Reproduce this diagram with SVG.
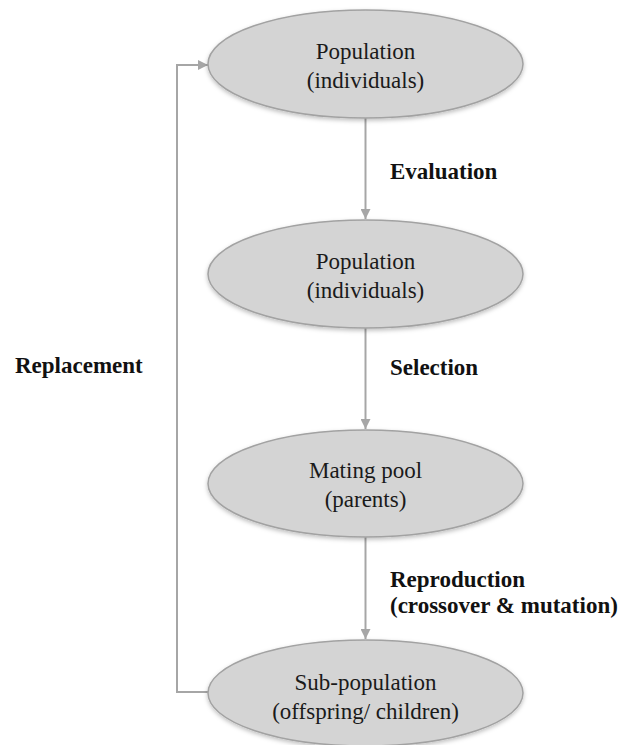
<svg xmlns="http://www.w3.org/2000/svg" width="623" height="745" viewBox="0 0 623 745">
  <style>
    .node ellipse { fill: #d4d4d4; stroke: #a2a2a2; stroke-width: 1.5; filter: url(#shadow); }
    .node text { font-family: "Liberation Serif", "Times New Roman", serif; font-size: 23px; fill: #1a1a1a; text-anchor: middle; }
    .label { font-family: "Liberation Serif", "Times New Roman", serif; font-size: 23px; font-weight: bold; fill: #111; }
    .edge { fill: none; stroke: #a6a6a6; stroke-width: 2; marker-end: url(#arrow); }
  </style>
  <defs>
    <filter id="shadow" x="-10%" y="-20%" width="120%" height="150%">
      <feDropShadow dx="0" dy="2" stdDeviation="2" flood-color="#000" flood-opacity="0.25"/>
    </filter>
    <marker id="arrow" viewBox="0 0 10 10" refX="10" refY="5" markerWidth="5" markerHeight="5" orient="auto" markerUnits="strokeWidth">
      <path d="M0,0 L10,5 L0,10 Z" fill="#a6a6a6"/>
    </marker>
  </defs>

  <rect width="623" height="745" fill="#fff"/>

  <!-- connectors -->
  <g id="connectors">
    <path class="edge" d="M365.5,118 V219"/>
    <path class="edge" d="M365.5,328 V429"/>
    <path class="edge" d="M365.5,537 V639"/>
    <path class="edge" d="M208,692 H177 V65 H208"/>
  </g>

  <!-- connector labels -->
  <g id="labels">
    <text class="label" x="390" y="179">Evaluation</text>
    <text class="label" x="390" y="375">Selection</text>
    <text class="label" x="390" y="587">Reproduction</text>
    <text class="label" x="390" y="613">(crossover &amp; mutation)</text>
    <text class="label" x="15" y="373">Replacement</text>
  </g>

  <g id="population" class="node">
    <ellipse cx="365.5" cy="64" rx="157.5" ry="54"/>
    <text x="365.5" y="59">Population</text>
    <text x="365.5" y="88">(individuals)</text>
  </g>

  <g id="evaluated-population" class="node">
    <ellipse cx="365.5" cy="274" rx="157.5" ry="54"/>
    <text x="365.5" y="269">Population</text>
    <text x="365.5" y="298">(individuals)</text>
  </g>

  <g id="mating-pool" class="node">
    <ellipse cx="365.5" cy="483.5" rx="157.5" ry="53.5"/>
    <text x="365.5" y="478">Mating pool</text>
    <text x="365.5" y="507">(parents)</text>
  </g>

  <g id="sub-population" class="node">
    <ellipse cx="365.5" cy="693" rx="157.5" ry="53"/>
    <text x="365.5" y="690">Sub-population</text>
    <text x="365.5" y="719">(offspring/ children)</text>
  </g>
</svg>
